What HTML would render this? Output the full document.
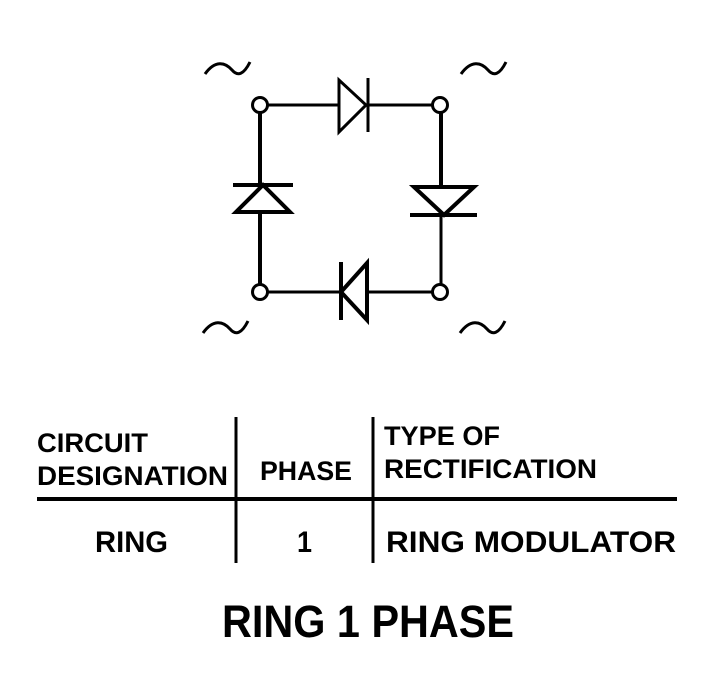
<!DOCTYPE html>
<html><head><style>body{margin:0;background:#fff}svg{display:block}</style></head><body>
<svg width="720" height="690" xmlns="http://www.w3.org/2000/svg" font-family="Liberation Sans, sans-serif" font-weight="bold">
<g stroke="#000" fill="none" stroke-linecap="butt">
<line x1="268" y1="105" x2="338" y2="105" stroke-width="3"/>
<line x1="368" y1="105" x2="432" y2="105" stroke-width="3"/>
<line x1="268" y1="292" x2="340" y2="292" stroke-width="3"/>
<line x1="368" y1="292" x2="432" y2="292" stroke-width="3"/>
<line x1="260" y1="113" x2="260" y2="185" stroke-width="4"/>
<line x1="260" y1="212" x2="260" y2="284" stroke-width="4"/>
<line x1="441" y1="113" x2="441" y2="186" stroke-width="4"/>
<line x1="441" y1="215" x2="441" y2="284" stroke-width="3"/>
<circle cx="260" cy="105" r="7.5" stroke-width="3" fill="#fff"/>
<circle cx="440" cy="105" r="7.5" stroke-width="3" fill="#fff"/>
<circle cx="260" cy="292" r="7.5" stroke-width="3" fill="#fff"/>
<circle cx="440" cy="292" r="7.5" stroke-width="3" fill="#fff"/>
<polygon points="339,80 339,132 366,105" stroke-width="3"/>
<line x1="368" y1="78" x2="368" y2="132" stroke-width="3"/>
<polygon points="236,212 290,212 263,185" stroke-width="4"/>
<line x1="233" y1="185" x2="293" y2="185" stroke-width="4"/>
<polygon points="414,187 474,187 444,215" stroke-width="4"/>
<line x1="410" y1="215" x2="477" y2="215" stroke-width="4"/>
<polygon points="367,263 367,320 341,292" stroke-width="4"/>
<line x1="341" y1="262" x2="341" y2="320" stroke-width="4"/>
<g stroke-width="3">
<path d="M205,74 C215,60 225,62 232,70 C238,77 244,74 250,62"/>
<path d="M461,74 C471,60 481,62 488,70 C494,77 500,74 506,62"/>
<path d="M203,333 C213,319 223,321 230,329 C236,336 242,333 248,321"/>
<path d="M460,333 C470,319 480,321 487,329 C493,336 499,333 505,321"/>
</g>
<line x1="236" y1="417" x2="236" y2="563" stroke-width="3"/>
<line x1="373" y1="417" x2="373" y2="563" stroke-width="3"/>
<line x1="37" y1="499" x2="677" y2="499" stroke-width="4"/>
</g>
<g font-size="27" fill="#000">
<text x="37" y="452" textLength="111" lengthAdjust="spacingAndGlyphs">CIRCUIT</text>
<text x="37" y="485" textLength="191" lengthAdjust="spacingAndGlyphs">DESIGNATION</text>
<text x="260" y="480" textLength="92" lengthAdjust="spacingAndGlyphs">PHASE</text>
<text x="384" y="445" textLength="116" lengthAdjust="spacingAndGlyphs">TYPE OF</text>
<text x="384" y="478" textLength="213" lengthAdjust="spacingAndGlyphs">RECTIFICATION</text>
<text x="95" y="552" font-size="30" textLength="73" lengthAdjust="spacingAndGlyphs">RING</text>
<text x="297" y="552" font-size="30" textLength="15" lengthAdjust="spacingAndGlyphs">1</text>
<text x="386" y="552" font-size="30" textLength="290" lengthAdjust="spacingAndGlyphs">RING MODULATOR</text>
<text x="222" y="637" font-size="45" textLength="292" lengthAdjust="spacingAndGlyphs">RING 1 PHASE</text>
</g>
</svg>
</body></html>
